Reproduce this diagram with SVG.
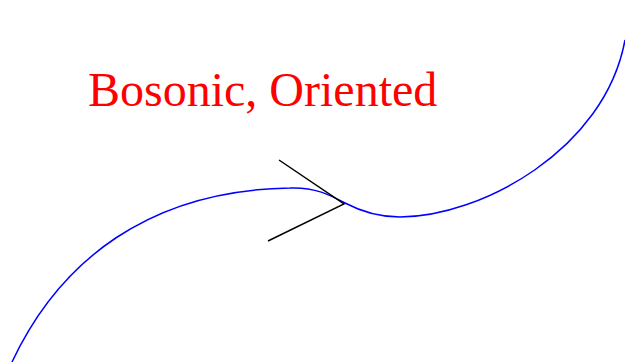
<svg xmlns="http://www.w3.org/2000/svg" width="625" height="362" viewBox="0 0 625 362">
<style>
.label{font-family:"Liberation Serif","Times New Roman",serif;font-size:48px;fill:#ff0000}
.curve{fill:none;stroke:#0000ff;stroke-width:1.5}
.arrow{fill:none;stroke:#000000;stroke-width:1.5}
</style>
<rect width="625" height="362" fill="#ffffff"/>
<g id="title"><text class="label" x="88" y="106">Bosonic, Oriented</text></g>
<g id="connectors">
<path class="curve" d="M12,362 C60,260 150,190 290,188 C315,187 330,195 345,203 C362,212 378,217 400,217 C480,217 605,150 625,40"/>
<polyline class="arrow" points="279,160 344,204 268,241"/>
</g>
</svg>
